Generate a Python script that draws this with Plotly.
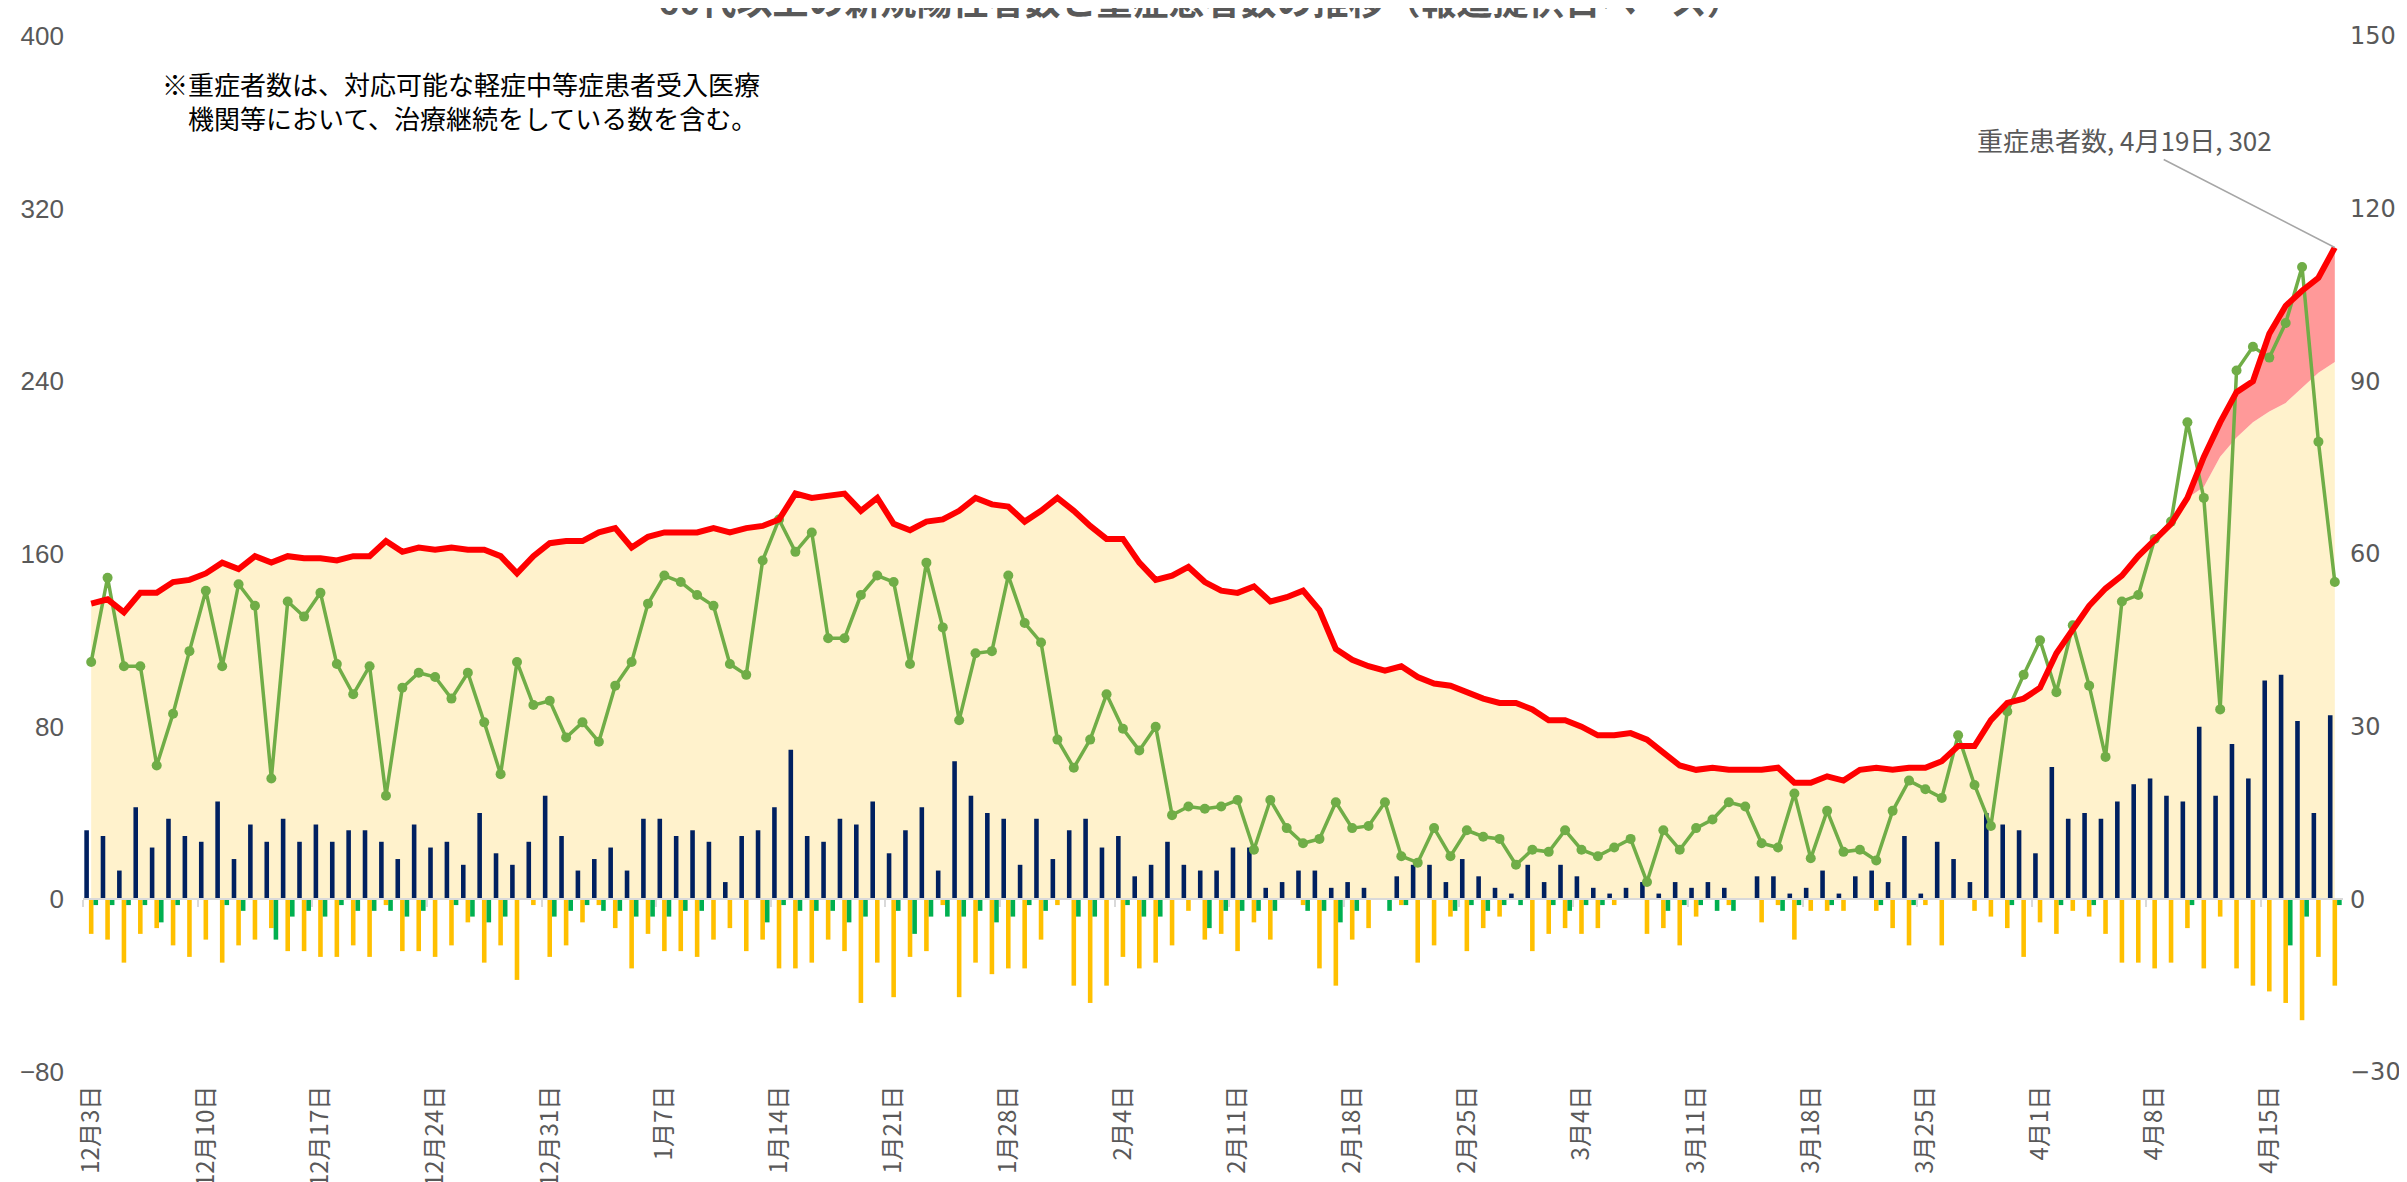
import pandas as pd
import plotly.graph_objects as go

# ---------------- data ----------------
dates = pd.date_range("2020-12-03", "2021-04-19", freq="D")
categories = [f"{d.month}月{d.day}日" for d in dates]
tick_labels = categories[::7]

# 重症患者数 (red line, left axis)
severe_total = [
    137, 139, 133, 142, 142, 147, 148, 151, 156, 153, 159, 156, 159, 158, 158, 157, 159, 159, 166, 161,
    163, 162, 163, 162, 162, 159, 151, 159, 165, 166, 166, 170, 172, 163, 168,
    170, 170, 170, 172, 170, 172, 173, 176, 188, 186, 187, 188, 180, 186, 174, 171, 175, 176, 180, 186,
    183, 182, 175, 180, 186, 180, 173, 167, 167, 156, 148, 150, 154, 147,
    143, 142, 145, 138, 140, 143, 134, 116, 111, 108, 106, 108, 103, 100, 99, 96, 93, 91, 91, 88,
    83, 83, 80, 76, 76, 77, 74, 68, 62, 60, 61, 60, 60, 60, 61,
    54, 54, 57, 55, 60, 61, 60, 61, 61, 64, 71, 71, 83, 91, 93, 98, 114, 125, 136, 144,
    150, 159, 167, 174, 186, 205, 221, 235, 240, 262, 275, 282, 288, 302,
]
# 重症病床での重症患者数 (beige area, left axis)
severe_icu = [
    137, 139, 133, 142, 142, 147, 148, 151, 156, 153, 159, 156, 159, 158, 158, 157, 159, 159, 166, 161,
    163, 162, 163, 162, 162, 159, 151, 159, 165, 166, 166, 170, 172, 163, 168,
    170, 170, 170, 172, 170, 172, 173, 176, 188, 186, 187, 188, 180, 186, 174, 171, 175, 176, 180, 186,
    183, 182, 175, 180, 186, 180, 173, 167, 167, 156, 148, 150, 154, 147,
    143, 142, 145, 138, 140, 143, 134, 116, 111, 108, 106, 108, 103, 100, 99, 96, 93, 91, 91, 88,
    83, 83, 80, 76, 76, 77, 74, 68, 62, 60, 61, 60, 60, 60, 61,
    54, 54, 57, 55, 60, 61, 60, 61, 61, 64, 71, 71, 83, 91, 93, 98, 114, 125, 136, 144,
    150, 159, 167, 174, 186, 191, 205, 214, 221, 226, 230, 237, 244, 249,
]
# 60代以上の新規陽性者数 (green line, left axis)
positives_60plus = [
    110, 149, 108, 108, 62, 86, 115, 143, 108, 146, 136, 56, 138, 131, 142, 109, 95, 108, 48, 98,
    105, 103, 93, 105, 82, 58, 110, 90, 92, 75, 82, 73, 99, 110, 137,
    150, 147, 141, 136, 109, 104, 157, 176, 161, 170, 121, 121, 141, 150, 147, 109, 156, 126, 83, 114,
    115, 150, 128, 119, 74, 61, 74, 95, 79, 69, 80, 39, 43, 42,
    43, 46, 23, 46, 33, 26, 28, 45, 33, 34, 45, 20, 17, 33, 20, 32, 29, 28, 16, 23,
    22, 32, 23, 20, 24, 28, 8, 32, 23, 33, 37, 45, 43, 26, 24,
    49, 19, 41, 22, 23, 18, 41, 55, 51, 47, 76, 53, 34, 87, 104, 120, 96, 127, 99, 66,
    138, 141, 167, 175, 221, 186, 88, 245, 256, 251, 267, 293, 212, 147,
]
# 新規重症 (navy bars, right axis)
new_severe = [
    12, 11, 5, 16, 9, 14, 11, 10, 17, 7, 13, 10, 14, 10, 13, 10, 12, 12, 10, 7,
    13, 9, 10, 6, 15, 8, 6, 10, 18, 11, 5, 7, 9, 5, 14,
    14, 11, 12, 10, 3, 11, 12, 16, 26, 11, 10, 14, 13, 17, 8, 12, 16, 5, 24, 18,
    15, 14, 6, 14, 7, 12, 14, 9, 11, 4, 6, 10, 6, 5,
    5, 9, 9, 2, 3, 5, 5, 2, 3, 2, 0, 4, 6, 6, 3, 7, 4, 2, 1, 6,
    3, 6, 4, 2, 1, 2, 3, 1, 3, 2, 3, 2, 0, 4, 4,
    1, 2, 5, 1, 4, 5, 3, 11, 1, 10, 7, 3, 15, 13, 12, 8, 23, 14, 15, 14,
    17, 20, 21, 18, 17, 30, 18, 27, 21, 38, 39, 31, 15, 32,
]
# 軽快等 (orange bars, right axis)
recovered = [
    -6, -7, -11, -6, -5, -8, -10, -7, -11, -8, -7, -5, -9, -9, -10, -10, -8, -10, -1, -9,
    -9, -10, -8, -4, -11, -8, -14, -1, -10, -8, -4, -1, -5, -12, -6,
    -9, -9, -10, -7, -5, -9, -7, -12, -12, -11, -7, -9, -18, -11, -17, -10, -9, -1, -17, -11,
    -13, -12, -12, -7, -1, -15, -18, -15, -10, -12, -11, -8, -2, -7,
    -6, -9, -4, -7, 0, -1, -12, -15, -7, -5, 0, -1, -11, -8, -3, -9, -5, -3, 0, -9,
    -6, -5, -6, -5, -1, 0, -6, -5, -8, -3, 0, -1, 0, -4, -1,
    -7, -2, -2, -2, 0, -2, -5, -8, -1, -8, 0, -2, -3, -5, -10, -4, -6, -2, -3, -6,
    -11, -11, -12, -11, -5, -12, -3, -12, -15, -16, -18, -21, -10, -15,
]
# 死亡 (green bars, right axis)
deaths = [
    -1, -1, -1, -1, -4, -1, 0, 0, -1, -2, 0, -7, -3, -2, -3, -1, -2, -2, -2, -3,
    -2, 0, -1, -3, -4, -3, 0, 0, -3, -2, -1, -2, -2, -3, -3,
    -3, -2, -2, 0, 0, 0, -4, -1, -2, -2, -2, -4, -3, 0, -2, -6, -3, -3, -3, -2,
    -4, -3, -1, -2, 0, -3, -3, 0, -1, -3, -3, 0, 0, -5,
    -2, -2, -2, -2, 0, -2, -2, -4, -2, 0, -2, -1, 0, 0, -2, -1, -2, -1, -1, 0,
    -1, -2, -1, -1, 0, 0, 0, -2, -1, -1, -2, -2, 0, 0, -2,
    -1, 0, -1, 0, 0, -1, 0, -1, 0, 0, 0, 0, 0, -1, 0, 0, -1, 0, -1, 0,
    0, 0, 0, 0, -1, 0, 0, 0, 0, 0, -8, -3, 0, -1,
]

left_ticks = [-80, 0, 80, 160, 240, 320, 400]
right_ticks = [-30, 0, 30, 60, 90, 120, 150]

title_text = "60代以上の新規陽性者数と重症患者数の推移（報道提供日ベース）"
note_text = "※重症者数は、対応可能な軽症中等症患者受入医療<br>　機関等において、治療継続をしている数を含む。"
callout_text = f"重症患者数, {categories[-1]}, {severe_total[-1]}"

# ---------------- figure ----------------
GRAY = "#595959"
JP = "Noto Sans CJK JP"

fig = go.Figure()

fig.add_trace(go.Scatter(x=categories, y=severe_icu, mode="lines", line=dict(width=0),
                         fill="tozeroy", fillcolor="#FFF2CC", hoverinfo="skip", yaxis="y"))
fig.add_trace(go.Scatter(x=categories, y=severe_total, mode="lines", line=dict(width=0),
                         fill="tonexty", fillcolor="#FF9999", hoverinfo="skip", yaxis="y"))

fig.add_trace(go.Bar(x=categories, y=new_severe, marker=dict(color="#002060", line=dict(width=0)), yaxis="y2"))
fig.add_trace(go.Bar(x=categories, y=recovered, marker=dict(color="#FFC000", line=dict(width=0)), yaxis="y2"))
fig.add_trace(go.Bar(x=categories, y=deaths, marker=dict(color="#00B050", line=dict(width=0)), yaxis="y2"))

fig.add_trace(go.Scatter(x=categories, y=positives_60plus, mode="lines+markers",
                         line=dict(color="#70AD47", width=3.5),
                         marker=dict(color="#70AD47", size=10), yaxis="y3"))
fig.add_trace(go.Scatter(x=categories, y=severe_total, mode="lines",
                         line=dict(color="#FF0000", width=6), yaxis="y3"))

# helper trace so the zero-line axis (x2) is drawn
fig.add_trace(go.Scatter(x=[None], y=[None], xaxis="x2", yaxis="y", mode="markers", hoverinfo="skip"))

n = len(categories)
fig.update_layout(
    width=2407, height=1182,
    margin=dict(l=75, r=72, t=28, b=118),
    paper_bgcolor="white", plot_bgcolor="white",
    showlegend=False,
    barmode="group", bargap=0.16, bargroupgap=0,
    xaxis=dict(type="category", range=[-0.5, n - 0.5], tickmode="array",
               tickvals=tick_labels, ticktext=tick_labels, tickangle=-90,
               tickfont=dict(family=JP, size=24, color=GRAY),
               showgrid=False, showline=False, zeroline=False, ticks="",
               automargin=False, ticklabelstandoff=8),
    xaxis2=dict(overlaying="x", anchor="free", position=80 / 480, type="linear",
                range=[-0.5, n - 0.5], tickmode="array",
                tickvals=[i - 0.5 for i in range(0, n, 7)],
                ticks="outside", ticklen=7, tickwidth=2, tickcolor="#D9D9D9",
                showline=True, linecolor="#D9D9D9", linewidth=2,
                showticklabels=False, showgrid=False, zeroline=False, automargin=False),
    yaxis=dict(range=[-80, 400], tickmode="array", tickvals=left_ticks,
               tickfont=dict(family="Liberation Sans Narrow, Arial Narrow, Liberation Sans", size=26, color=GRAY),
               showgrid=False, zeroline=False, showline=False, ticks="",
               automargin=False, ticklabelstandoff=18),
    yaxis2=dict(range=[-30, 150], tickmode="array", tickvals=right_ticks, overlaying="y", side="right",
                tickfont=dict(family="DejaVu Sans", size=24, color=GRAY),
                showgrid=False, zeroline=False, showline=False, ticks="",
                automargin=False, ticklabelstandoff=6),
    yaxis3=dict(range=[-80, 400], overlaying="y", visible=False),
    annotations=[
        dict(text=title_text, xref="paper", yref="paper", x=0.4946, y=1.0085,
             xanchor="center", yanchor="bottom", showarrow=False,
             font=dict(family=JP, size=36, color=GRAY, weight=700)),
        dict(text=note_text, xref="paper", yref="paper", x=0.034, y=0.938,
             xanchor="left", yanchor="middle", align="left", showarrow=False,
             font=dict(family=JP, size=26, color="#000000")),
        dict(text=callout_text, x=categories[-1], y=severe_total[-1], xref="x", yref="y3",
             ax=-210, ay=-108, showarrow=True, arrowhead=0, arrowwidth=1.5,
             arrowcolor="#A6A6A6", font=dict(family=JP, size=26, color=GRAY)),
    ],
)

fig.write_html("out.html")
